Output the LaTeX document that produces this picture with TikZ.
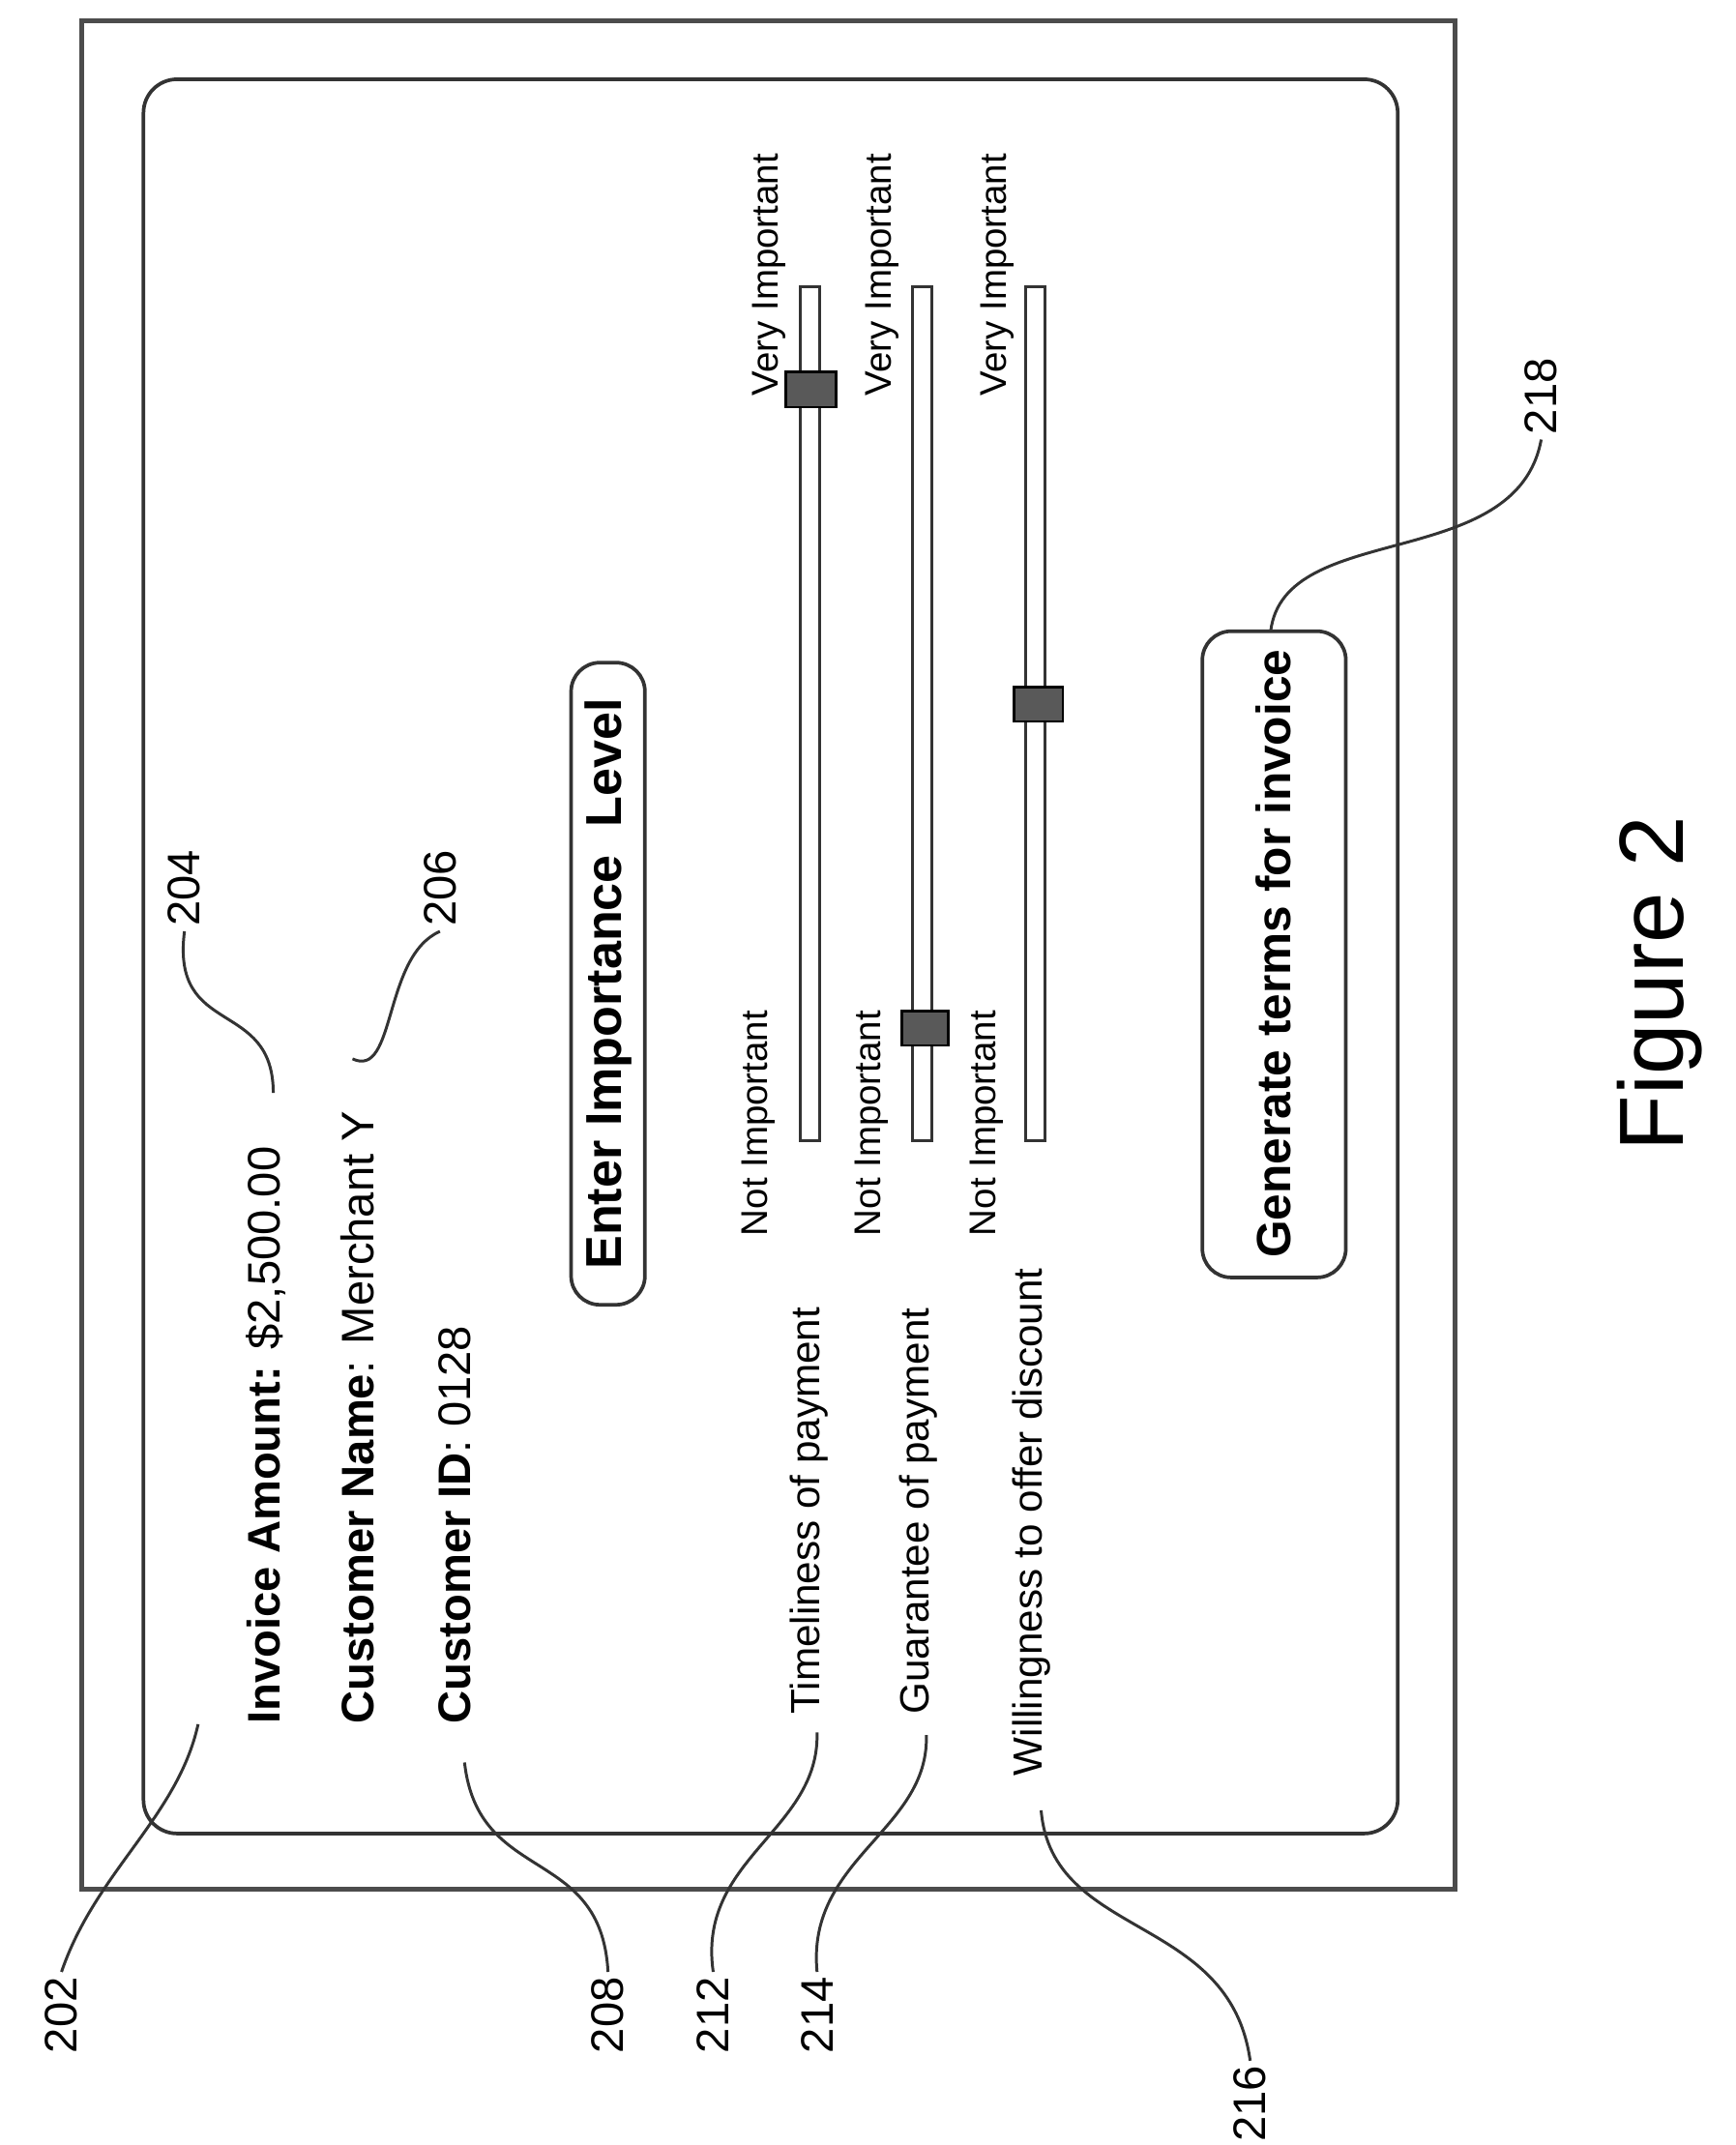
\documentclass[tikz,border=0pt]{standalone}
\usepackage{fontspec}
\setmainfont{Liberation Sans}
\begin{document}
\begin{tikzpicture}[x=0.02cm,y=-0.02cm,
  txt/.style={rotate=90,anchor=west,inner sep=0pt},
  lab/.style={rotate=90,inner sep=2pt,font=\fontsize{19}{22}\selectfont},
  lead/.style={line width=1.2pt,black!80},
  track/.style={draw=black!80,line width=1.2pt,fill=white},
  knob/.style={draw=black,line width=1pt,fill=black!65},
  btn/.style={draw=black!80,line width=1.5pt,rounded corners=12pt}]
\useasboundingbox (0,0) rectangle (1270,1570);
\draw[black!70,line width=2pt] (60,15) rectangle (1065,1383);
\draw[black!80,line width=1.5pt,rounded corners=14pt] (105,58) rectangle (1023,1342);
\node[txt,font=\fontsize{19}{22}\selectfont] (t204) at (195,1262) {\textbf{Invoice Amount:} \$2,500.00};
\node[txt,font=\fontsize{19}{22}\selectfont] (t206) at (262,1262) {\textbf{Customer Name}: Merchant Y};
\node[txt,font=\fontsize{19}{22}\selectfont] (t208) at (333,1262) {\textbf{Customer ID}: 0128};
\draw[btn] (418,485) rectangle (472,955);
\node[rotate=90,font=\fontsize{21}{24}\selectfont\bfseries] (b1) at (445,720) {Enter Importance\ \ Level};
\node[txt,font=\fontsize{17}{20}\selectfont] (t212) at (592,1255) {Timeliness of payment};
\node[txt,font=\fontsize{17}{20}\selectfont] (t214) at (672,1255) {Guarantee of payment};
\node[txt,font=\fontsize{17}{20}\selectfont] (t216) at (755,1300) {Willingness to offer discount};
\foreach \x/\n in {555/1,638/2,722/3}{
  \node[txt,font=\fontsize{15.5}{18}\selectfont] (ni\n) at (\x,905) {Not Important};
  \node[txt,font=\fontsize{15.5}{18}\selectfont] (vi\n) at (\x+8,290) {Very Important};}
\foreach \x/\n in {586/1,668/2,751/3}{
  \draw[track] (\x,210) rectangle (\x+14,835);}
\draw[knob] (575,272) rectangle (612,298);
\draw[knob] (660,740) rectangle (694,765);
\draw[knob] (742,503) rectangle (778,528);
\draw[btn] (880,462) rectangle (985,935);
\node[rotate=90,font=\fontsize{20}{24}\selectfont\bfseries] (b2) at (932,698) {Generate terms for invoice};
\node[rotate=90,font=\fontsize{38}{44}\selectfont] (fig) at (1215,720) {Figure 2};
\node[lab] (n202) at (45,1475) {202};
\node[lab] (n204) at (135,650) {204};
\node[lab] (n206) at (322,650) {206};
\node[lab] (n208) at (445,1475) {208};
\node[lab] (n212) at (522,1475) {212};
\node[lab] (n214) at (598,1475) {214};
\node[lab] (n216) at (915,1540) {216};
\node[lab] (n218) at (1128,290) {218};
\coordinate (c202) at (145,1262);
\coordinate (c204) at (200,800);
\coordinate (c206) at (258,775);
\coordinate (c208) at (340,1290);
\coordinate (c212) at (598,1268);
\coordinate (c214) at (678,1270);
\coordinate (c216) at (762,1325);
\coordinate (c218) at (930,462);
\draw[lead] (n202.east) .. controls (70,1370) and (130,1330) .. (c202);
\draw[lead] (c204) .. controls (200,730) and (125,760) .. (n204.west);
\draw[lead] (c206) .. controls (290,790) and (280,700) .. (n206.west);
\draw[lead] (c208) .. controls (350,1380) and (440,1350) .. (n208.east);
\draw[lead] (c212) .. controls (600,1340) and (510,1360) .. (n212.east);
\draw[lead] (c214) .. controls (680,1340) and (590,1360) .. (n214.east);
\draw[lead] (c216) .. controls (770,1420) and (900,1400) .. (n216.east);
\draw[lead] (c218) .. controls (940,380) and (1110,420) .. (n218.west);
\end{tikzpicture}
\end{document}
